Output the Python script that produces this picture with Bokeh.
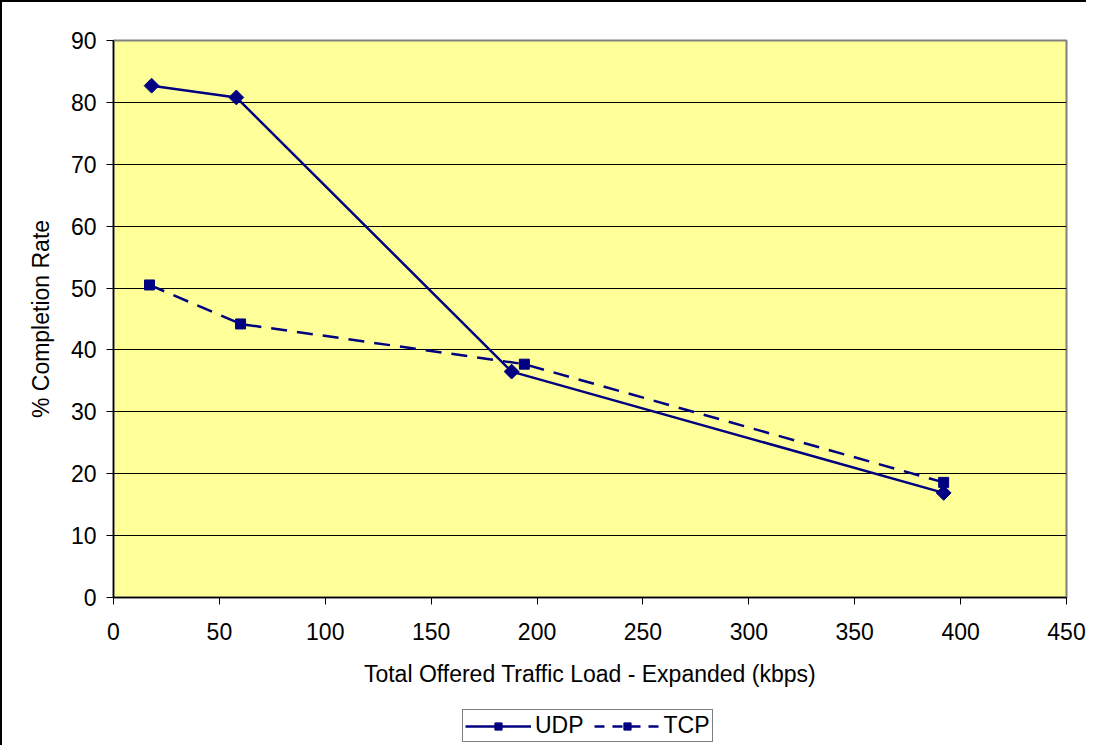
import math
from bokeh.plotting import figure
from bokeh.layouts import column
from bokeh.models import Legend, LegendItem, Range1d, FixedTicker
from bokeh.embed import file_html
from bokeh.resources import INLINE

udp_x = [18, 58, 188, 392]
udp_y = [82.7, 80.8, 36.5, 16.9]
tcp_x = [17, 60, 194, 392]
tcp_y = [50.5, 44.2, 37.7, 18.6]
x_ticks = [0, 50, 100, 150, 200, 250, 300, 350, 400, 450]
y_ticks = [0, 10, 20, 30, 40, 50, 60, 70, 80, 90]
series_names = ["UDP", "TCP"]

FONT = "Liberation Sans"
NAVY = "#000080"
FS = "23px"
DASH = "16 10"

p = figure(frame_width=953, frame_height=557, output_backend="svg", toolbar_location=None,
           x_range=Range1d(0, 450), y_range=Range1d(0, 90),
           min_border_left=111, min_border_right=20, min_border_top=38, min_border_bottom=105)
p.background_fill_color = "#FFFF99"
p.border_fill_color = "white"
p.outline_line_color = "#808080"
p.outline_line_width = 2

p.xgrid.grid_line_color = None
p.ygrid.grid_line_color = "#000000"
p.ygrid.grid_line_width = 1

for ax in (p.xaxis, p.yaxis):
    ax.axis_line_color = "black"
    ax.axis_line_width = 1.5
    ax.major_tick_line_color = "black"
    ax.major_tick_in = 0
    ax.major_tick_out = 7
    ax.minor_tick_line_color = None
    ax.major_label_text_font = FONT
    ax.major_label_text_font_size = FS
    ax.major_label_text_color = "black"
    ax.axis_label_text_font = FONT
    ax.axis_label_text_font_size = FS
    ax.axis_label_text_font_style = "normal"
    ax.axis_label_text_color = "black"

p.xaxis.ticker = FixedTicker(ticks=x_ticks)
p.yaxis.ticker = FixedTicker(ticks=y_ticks)
p.xaxis.axis_label = "Total Offered Traffic Load - Expanded (kbps)"
p.yaxis.axis_label = "% Completion Rate"
p.xaxis.major_label_standoff = 18
p.yaxis.major_label_standoff = 10
p.xaxis.axis_label_standoff = 18
p.yaxis.axis_label_standoff = 14

p.line(udp_x, udp_y, line_color=NAVY, line_width=2.5)
p.scatter(udp_x, udp_y, marker="square", size=10.5, angle=math.pi / 4,
          fill_color=NAVY, line_color=NAVY)
p.line(tcp_x, tcp_y, line_color=NAVY, line_width=2.5, line_dash=DASH)
p.scatter(tcp_x, tcp_y, marker="square", size=10, fill_color=NAVY, line_color=NAVY)

# legend strip below the chart (its ranges keep the proxy glyphs out of view)
lf = figure(width=1084, height=43, output_backend="svg", toolbar_location=None,
            x_range=Range1d(-2000, -1000), y_range=Range1d(-2000, -1000), min_border=0)
lf.axis.visible = False
lf.grid.visible = False
lf.outline_line_color = None
lf.background_fill_color = "white"
lf.border_fill_color = "white"

ll1 = lf.line(udp_x, udp_y, line_color=NAVY, line_width=2.5)
lm1 = lf.scatter(udp_x, udp_y, marker="square", size=10.5, angle=math.pi / 4,
                 fill_color=NAVY, line_color=NAVY)
ll2 = lf.line(tcp_x, tcp_y, line_color=NAVY, line_width=2.5, line_dash="10 8")
lm2 = lf.scatter(tcp_x, tcp_y, marker="square", size=10, fill_color=NAVY, line_color=NAVY)

legend = Legend(items=[LegendItem(label=series_names[0], renderers=[ll1, lm1]),
                       LegendItem(label=series_names[1], renderers=[ll2, lm2])],
                orientation="horizontal", location=(349, 3),
                label_text_font=FONT, label_text_font_size=FS, label_text_color="black",
                border_line_color="black", border_line_width=1.5,
                glyph_width=66, glyph_height=18, spacing=10, padding=2,
                label_standoff=4, margin=0, background_fill_alpha=1.0)
lf.add_layout(legend, "center")

layout = column(p, lf, spacing=0)
layout.styles = {"border-left": "2px solid black", "border-top": "2px solid black"}

open("out.html", "w").write(file_html(layout, INLINE))
